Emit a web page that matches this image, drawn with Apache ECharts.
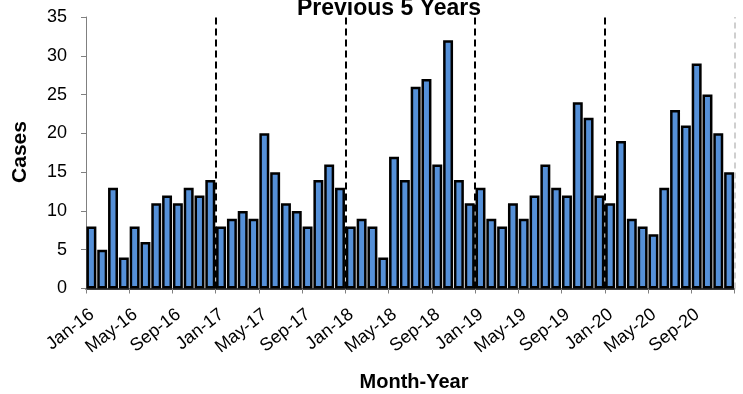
<!DOCTYPE html>
<html>
<head>
<meta charset="utf-8">
<script src="https://cdn.jsdelivr.net/npm/echarts@6/dist/echarts.min.js"></script>
<style>
  html, body { margin: 0; padding: 0; background: #fff; }
  #chart { width: 743px; height: 394px; }
</style>
</head>
<body>
<div id="chart"></div>
<script>
// Monthly categories Jan-16 .. Dec-20
const years = ['16', '17', '18', '19', '20'];
const monthNames = ['Jan','Feb','Mar','Apr','May','Jun','Jul','Aug','Sep','Oct','Nov','Dec'];
const categories = [];
years.forEach(y => monthNames.forEach(m => categories.push(m + '-' + y)));

// Cases per month
const cases2016 = [8, 5, 13, 4, 8, 6, 11, 12, 11, 13, 12, 14];
const cases2017 = [8, 9, 10, 9, 20, 15, 11, 10, 8, 14, 16, 13];
const cases2018 = [8, 9, 8, 4, 17, 14, 26, 27, 16, 32, 14, 11];
const cases2019 = [13, 9, 8, 11, 9, 12, 16, 13, 12, 24, 22, 12];
const cases2020 = [11, 19, 9, 8, 7, 13, 23, 21, 29, 25, 20, 15];
const cases = [].concat(cases2016, cases2017, cases2018, cases2019, cases2020);

// X tick labels, every 4 months
const tickLabels = ['Jan-16','May-16','Sep-16','Jan-17','May-17','Sep-17','Jan-18','May-18',
                    'Sep-18','Jan-19','May-19','Sep-19','Jan-20','May-20','Sep-20'];
// Year boundaries (in months from Jan-16)
const yearBoundaries = [12, 24, 36, 48];
const endBoundary = 60;

const yTicks = { min: 0, max: 35, interval: 5 };

const chart = echarts.init(document.getElementById('chart'), null, { renderer: 'canvas' });
const FONT = '"Liberation Sans", Arial, sans-serif';

const markData = yearBoundaries.map(v => ({
  xAxis: v,
  lineStyle: { color: '#000', width: 2, type: [7, 4] }
}));
markData.push({ xAxis: endBoundary, lineStyle: { color: '#c0c0c0', width: 1.5, type: [6, 4] } });

chart.setOption({
  animation: false,
  backgroundColor: '#fff',
  grid: [
    { left: 86, right: 8.5, top: 17, bottom: 105.5, containLabel: false },
    { left: 92, right: 2.5, top: 17, bottom: 105.5, containLabel: false }
  ],
  xAxis: [
    {
      type: 'category',
      gridIndex: 0,
      data: categories,
      show: false,
      boundaryGap: true
    },
    {
      type: 'value',
      gridIndex: 0,
      min: 0, max: 60, interval: 4,
      position: 'bottom',
      axisLine: { show: true, lineStyle: { color: '#000', width: 1.5 } },
      axisTick: { show: true, length: 5, lineStyle: { color: '#808080', width: 1 } },
      splitLine: { show: false },
      axisLabel: { show: false }
    },
    {
      type: 'value',
      gridIndex: 1,
      min: 0, max: 60, interval: 4,
      position: 'bottom',
      axisLine: { show: false },
      axisTick: { show: false },
      splitLine: { show: false },
      axisLabel: {
        show: true,
        rotate: 38,
        margin: 24,
        fontFamily: FONT,
        fontSize: 18,
        color: '#000',
        formatter: v => (tickLabels[v / 4] || '')
      }
    }
  ],
  yAxis: [
    {
      type: 'value',
      gridIndex: 0,
      min: yTicks.min, max: yTicks.max, interval: yTicks.interval,
      axisLine: { show: true, lineStyle: { color: '#808080', width: 1 } },
      axisTick: { show: true, length: 5, lineStyle: { color: '#808080' } },
      splitLine: { show: false },
      axisLabel: { fontFamily: FONT, fontSize: 18, color: '#000', margin: 19 }
    },
    {
      type: 'value',
      gridIndex: 1,
      min: yTicks.min, max: yTicks.max, interval: yTicks.interval,
      show: false
    }
  ],
  series: [
    {
      type: 'bar',
      xAxisIndex: 0,
      yAxisIndex: 0,
      data: cases,
      barWidth: '92%',
      barMaxWidth: 20,
      itemStyle: { color: '#5590d8', borderColor: '#000', borderWidth: 2.5 },
      z: 2
    },
    {
      type: 'line',
      xAxisIndex: 1,
      yAxisIndex: 0,
      data: [],
      symbol: 'none',
      z: 3,
      markLine: {
        silent: true,
        symbol: ['none', 'none'],
        label: { show: false },
        data: markData
      }
    }
  ],
  graphic: [
    {
      type: 'text', x: 389, y: 9, z: 10,
      style: { text: 'Previous 5 Years', font: 'bold 23px ' + FONT, fill: '#000',
               textAlign: 'center', textVerticalAlign: 'middle' }
    },
    {
      type: 'text', x: 414, y: 382, z: 10,
      style: { text: 'Month-Year', font: 'bold 20px ' + FONT, fill: '#000',
               textAlign: 'center', textVerticalAlign: 'middle' }
    },
    {
      type: 'text', x: 20, y: 152, rotation: Math.PI / 2, z: 10,
      style: { text: 'Cases', font: 'bold 21px ' + FONT, fill: '#000',
               textAlign: 'center', textVerticalAlign: 'middle' }
    }
  ]
});
</script>
</body>
</html>
